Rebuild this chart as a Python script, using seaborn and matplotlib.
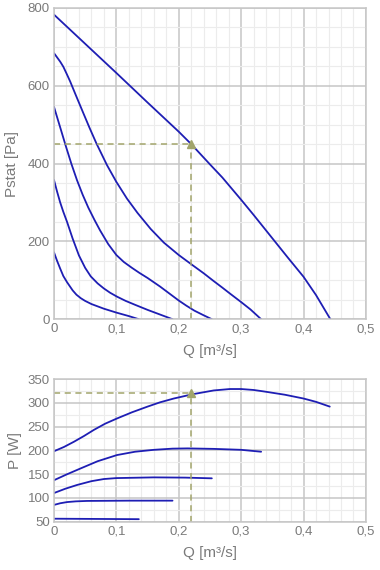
import numpy as np
import pandas as pd
import matplotlib
matplotlib.use("Agg")
import matplotlib.pyplot as plt
from matplotlib.ticker import MultipleLocator, FuncFormatter
import seaborn as sns

# --- data ---
# static pressure curves (Q in m3/s, Pstat in Pa), one per speed step
q_s1 = [0, 0.05, 0.1, 0.15, 0.2, 0.22, 0.25, 0.27, 0.3, 0.32, 0.35, 0.375, 0.4, 0.42, 0.443]
p_s1 = [783, 708, 633, 557, 482, 450, 398, 364, 307, 268, 208, 158, 109, 62, 0]
q_s2 = [0, 0.005, 0.01, 0.015, 0.02, 0.026, 0.035, 0.047, 0.057, 0.068, 0.085, 0.1, 0.117,
        0.134, 0.155, 0.176, 0.2, 0.222, 0.24, 0.256, 0.27, 0.282, 0.3, 0.315, 0.332]
p_s2 = [684, 673, 662, 649, 632, 611, 576, 530, 492, 452, 396, 353, 310,
        273, 232, 197, 165, 139, 118, 98, 81, 66, 44, 25, 0]
q_s3 = [0, 0.01, 0.019, 0.028, 0.037, 0.046, 0.055, 0.065, 0.074, 0.087, 0.1, 0.112,
        0.125, 0.137, 0.15, 0.16, 0.17, 0.185, 0.2, 0.212, 0.225, 0.24, 0.253]
p_s3 = [546, 493, 445, 399, 357, 320, 287, 255, 228, 193, 165, 147,
        132, 119, 106, 95, 84, 66, 48, 35, 22, 10, 0]
q_s4 = [0, 0.005, 0.01, 0.015, 0.021, 0.03, 0.04, 0.05, 0.059, 0.07, 0.08, 0.09,
        0.101, 0.115, 0.13, 0.15, 0.17, 0.19]
p_s4 = [358, 328, 300, 276, 250, 207, 164, 132, 110, 92, 79, 68,
        58, 47, 37, 24, 12, 0]
q_s5 = [0, 0.005, 0.01, 0.015, 0.021, 0.03, 0.036, 0.043, 0.05, 0.06, 0.07, 0.08,
        0.09, 0.1, 0.11, 0.12, 0.136]
p_s5 = [172, 150, 130, 111, 95, 74, 63, 54, 47, 39, 33, 27,
        22, 17, 12.5, 8, 0]

# power curves (Q in m3/s, P in W)
q_w1 = [0, 0.016, 0.032, 0.048, 0.064, 0.082, 0.101, 0.125, 0.15, 0.17, 0.192, 0.222,
        0.256, 0.282, 0.3, 0.32, 0.336, 0.37, 0.4, 0.42, 0.442]
p_w1 = [198, 207, 218, 230, 243, 256, 267, 280, 292, 301, 309, 318,
        326, 329, 329, 327, 324, 317, 309, 302, 292]
q_w2 = [0, 0.02, 0.043, 0.07, 0.101, 0.13, 0.16, 0.19, 0.214, 0.256, 0.3, 0.332]
p_w2 = [137, 149, 162, 177, 190, 197, 201, 203.5, 204, 203, 201, 197]
q_w3 = [0, 0.018, 0.037, 0.06, 0.08, 0.1, 0.16, 0.21, 0.253]
p_w3 = [110, 119, 127, 135, 139.5, 141.5, 143, 142.5, 141]
q_w4 = [0, 0.01, 0.021, 0.035, 0.053, 0.12, 0.19]
p_w4 = [85, 88.5, 91, 92.5, 93.4, 94, 94]
q_w5 = [0, 0.136]
p_w5 = [56, 55]

# operating point
op_q = 0.22
op_pstat = 450
op_power = 320

static_curves = [(q_s1, p_s1), (q_s2, p_s2), (q_s3, p_s3), (q_s4, p_s4), (q_s5, p_s5)]
power_curves = [(q_w1, p_w1), (q_w2, p_w2), (q_w3, p_w3), (q_w4, p_w4), (q_w5, p_w5)]

# --- style ---
sns.set_style("white")
plt.rcParams['font.family'] = ['Liberation Sans', 'DejaVu Sans']

line_col = '#1e1eb4'
op_col = '#a2a56c'
txt_col = '#7a7a7a'
major_col = '#c6c6c6'
minor_col = '#ececec'


def comma_fmt(v, pos):
    s = f"{v:.1f}".replace('.', ',')
    if s.endswith(',0'):
        s = s[:-2]
    return s


def style_axes(ax, ymin, ymax, ymajor, yminor):
    ax.set_xlim(0, 0.5)
    ax.set_ylim(ymin, ymax)
    ax.xaxis.set_major_locator(MultipleLocator(0.1))
    ax.xaxis.set_minor_locator(MultipleLocator(0.02))
    ax.yaxis.set_major_locator(MultipleLocator(ymajor))
    ax.yaxis.set_minor_locator(MultipleLocator(yminor))
    ax.xaxis.set_major_formatter(FuncFormatter(comma_fmt))
    ax.grid(which='minor', color=minor_col, lw=0.8)
    ax.grid(which='major', color=major_col, lw=1.1)
    ax.set_axisbelow(True)
    for sp in ax.spines.values():
        sp.set_color(major_col)
        sp.set_linewidth(1.1)
    ax.tick_params(which='both', length=0, colors=txt_col, labelsize=9.5, pad=3)


def draw_curves(ax, curves):
    for q, p in curves:
        df = pd.DataFrame({'Q': q, 'P': p})
        sns.lineplot(data=df, x='Q', y='P', ax=ax, sort=False, estimator=None,
                     color=line_col, lw=1.3, solid_joinstyle='round')


fig = plt.figure(figsize=(3.8, 5.7), dpi=100)
ax1 = fig.add_axes([0.142, 0.440, 0.821, 0.546])
ax2 = fig.add_axes([0.142, 0.085, 0.821, 0.250])

# top: static pressure
style_axes(ax1, 0, 800, 200, 50)
draw_curves(ax1, static_curves)
ax1.plot([0, op_q], [op_pstat, op_pstat], ls=(0, (4, 3)), color=op_col, lw=1.1)
ax1.plot([op_q, op_q], [0, op_pstat], ls=(0, (4, 3)), color=op_col, lw=1.1)
ax1.plot([op_q], [op_pstat], marker='^', color=op_col, ms=6)
ax1.set_xlabel('Q [m³/s]', color=txt_col, fontsize=11, labelpad=6)
ax1.set_ylabel('Pstat [Pa]', color=txt_col, fontsize=11, labelpad=6)

# bottom: power
style_axes(ax2, 50, 350, 50, 25)
draw_curves(ax2, power_curves)
ax2.plot([0, op_q], [op_power, op_power], ls=(0, (4, 3)), color=op_col, lw=1.1)
ax2.plot([op_q, op_q], [50, op_power], ls=(0, (4, 3)), color=op_col, lw=1.1)
ax2.plot([op_q], [op_power], marker='^', color=op_col, ms=6)
ax2.set_xlabel('Q [m³/s]', color=txt_col, fontsize=11, labelpad=6)
ax2.set_ylabel('P [W]', color=txt_col, fontsize=11, labelpad=4)

fig.savefig('out.png', dpi=100)
